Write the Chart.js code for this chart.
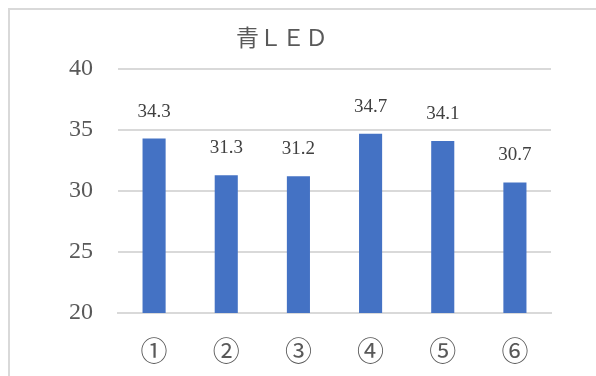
<!DOCTYPE html>
<html>
<head>
<meta charset="utf-8">
<script src="https://cdn.jsdelivr.net/npm/chart.js@4/dist/chart.umd.min.js"></script>
<style>
  html, body { margin: 0; padding: 0; background: #ffffff; }
  #wrap { width: 596px; height: 376px; position: relative; }
</style>
</head>
<body>
<div id="wrap"><canvas id="c" width="596" height="376"></canvas></div>
<script>
const categories = ['①', '②', '③', '④', '⑤', '⑥'];
const values = [34.3, 31.3, 31.2, 34.7, 34.1, 30.7];
const yTicks = [20, 25, 30, 35, 40];
const titleText = '青ＬＥＤ';

const SERIF = '"Liberation Serif", "DejaVu Serif", "Noto Sans CJK JP", serif';
const AXIS_GRAY = '#595959';
const GRID_GRAY = '#d9d9d9';

// Frame of the chart area plus the centred title
const framePlugin = {
  id: 'frame',
  beforeDraw(chart) {
    const ctx = chart.ctx;
    ctx.save();
    ctx.fillStyle = '#ffffff';
    ctx.fillRect(0, 0, chart.width, chart.height);
    ctx.strokeStyle = '#d9d9d9';
    ctx.lineWidth = 2;
    ctx.beginPath();
    ctx.moveTo(9, chart.height + 2);
    ctx.lineTo(9, 9);
    ctx.lineTo(chart.width + 2, 9);
    ctx.stroke();
    ctx.restore();
  },
  afterDraw(chart) {
    const ctx = chart.ctx;
    ctx.save();
    ctx.font = '23px ' + SERIF;
    ctx.fillStyle = AXIS_GRAY;
    ctx.textAlign = 'center';
    ctx.textBaseline = 'middle';
    ctx.fillText(titleText, 282, 40);
    ctx.restore();
  }
};

// Value labels above each bar
const valueLabelPlugin = {
  id: 'valueLabels',
  afterDatasetsDraw(chart) {
    const ctx = chart.ctx;
    const meta = chart.getDatasetMeta(0);
    const ds = chart.data.datasets[0];
    ctx.save();
    ctx.font = '19px ' + SERIF;
    ctx.fillStyle = '#404040';
    ctx.textAlign = 'center';
    ctx.textBaseline = 'middle';
    meta.data.forEach((bar, i) => {
      ctx.fillText(ds.data[i].toFixed(1), bar.x, bar.y - 27);
    });
    ctx.restore();
  }
};

new Chart(document.getElementById('c'), {
  type: 'bar',
  data: {
    labels: categories,
    datasets: [{
      data: values,
      backgroundColor: '#4472C4',
      borderWidth: 0,
      barPercentage: 0.64,
      categoryPercentage: 0.5
    }]
  },
  options: {
    responsive: false,
    animation: false,
    devicePixelRatio: 1,
    layout: { padding: { top: 69, right: 45, left: 0, bottom: 0 } },
    plugins: {
      legend: { display: false },
      title: { display: false },
      tooltip: { enabled: false }
    },
    scales: {
      x: {
        grid: { display: false },
        border: { display: true, color: GRID_GRAY, width: 2 },
        ticks: {
          color: AXIS_GRAY,
          font: { family: SERIF, size: 27 },
          padding: 17,
          maxRotation: 0
        },
        afterFit(scale) { scale.height = 63; }
      },
      y: {
        min: 20,
        max: 40,
        afterBuildTicks(scale) { scale.ticks = yTicks.map(v => ({ value: v })); },
        grid: { color: GRID_GRAY, lineWidth: 2, drawTicks: false },
        border: { display: false },
        ticks: {
          color: AXIS_GRAY,
          font: { family: SERIF, size: 24 },
          padding: 25
        },
        afterFit(scale) { scale.width = 118; }
      }
    }
  },
  plugins: [framePlugin, valueLabelPlugin]
});
</script>
</body>
</html>
